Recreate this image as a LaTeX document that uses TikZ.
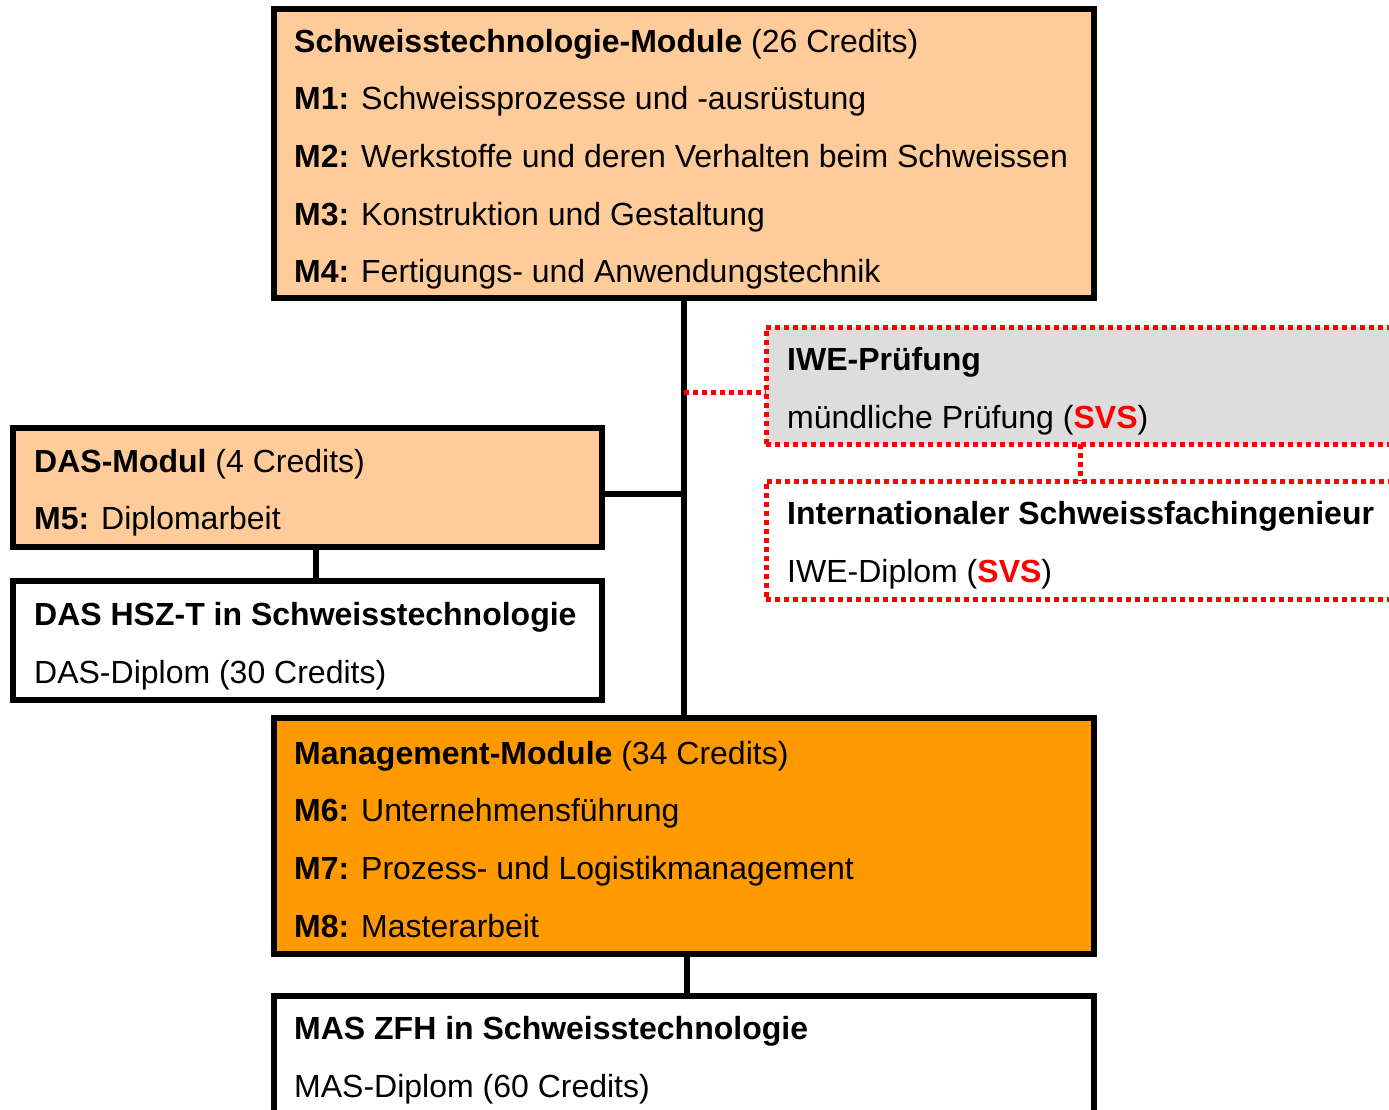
\documentclass[tikz,border=0pt]{standalone}
\usepackage{fontspec}
\setmainfont{Liberation Sans}
\usetikzlibrary{calc}
\definecolor{lightor}{HTML}{FFCC99}
\definecolor{darkor}{HTML}{FF9900}
\definecolor{greybox}{HTML}{DDDDDD}
\definecolor{svsred}{HTML}{FF0000}
\begin{document}
\begin{tikzpicture}[x=1pt,y=-1pt,
  box/.style={draw=black,line width=6pt,rectangle,inner sep=0pt,outer sep=0pt,anchor=north west},
  dotbox/.style={draw=svsred,line width=5pt,dash pattern=on 5pt off 4pt,rectangle,inner sep=0pt,outer sep=0pt,anchor=north west},
  conn/.style={draw=black,line width=6pt},
  dotconn/.style={draw=svsred,line width=5pt,dash pattern=on 5pt off 4pt},
  txt/.style={anchor=base west,inner sep=0pt,font=\fontsize{32}{38}\selectfont}]
\useasboundingbox (0,0) rectangle (1389,1109);
\clip (0,0) rectangle (1389,1109);
% boxes
\node[box,fill=lightor,minimum width=820pt,minimum height=289pt] (top) at (274,9) {};
\node[box,fill=lightor,minimum width=589pt,minimum height=119pt] (das) at (13,428) {};
\node[box,fill=white,minimum width=589pt,minimum height=119pt] (hsz) at (13,581) {};
\node[box,fill=darkor,minimum width=820pt,minimum height=236pt] (mgmt) at (274,718) {};
\node[box,fill=white,minimum width=820pt,minimum height=200pt] (mas) at (274,996) {};
\node[dotbox,fill=greybox,minimum width=700pt,minimum height=117pt] (iwe) at (766,327) {};
\node[dotbox,fill=white,minimum width=700pt,minimum height=118pt] (intl) at (766,481) {};
% connectors
\draw[conn] (top.south) -- (mgmt.north);
\coordinate (dasj) at ($(das.east)+(0,6)$);
\draw[conn] (dasj) -- (dasj -| top.south);
\draw[conn] ($(das.south)+(8,0)$) -- ($(hsz.north)+(8,0)$);
\draw[conn] ($(mgmt.south)+(3,0)$) -- ($(mas.north)+(3,0)$);
\coordinate (iwej) at ($(iwe.west)+(0,7)$);
\draw[dotconn] (iwej -| top.south) -- (iwej);
\coordinate (iwed) at (1080,0);
\draw[dotconn] (iwed |- iwe.south) -- (iwed |- intl.north);
% texts
\node[txt] (t1) at (294,52) {\textbf{Schweisstechnologie-Module} (26 Credits)};
\node[txt] (t2) at (294,109) {\textbf{M1:} Schweissprozesse und -ausrüstung};
\node[txt] (t3) at (294,167) {\textbf{M2:} Werkstoffe und deren Verhalten beim Schweissen};
\node[txt] (t4) at (294,225) {\textbf{M3:} Konstruktion und Gestaltung};
\node[txt] (t5) at (294,282) {\textbf{M4:} Fertigungs- und Anwendungstechnik};
\node[txt] (d1) at (34,472) {\textbf{DAS-Modul} (4 Credits)};
\node[txt] (d2) at (34,529) {\textbf{M5:} Diplomarbeit};
\node[txt] (h1) at (34,625) {\textbf{DAS HSZ-T in Schweisstechnologie}};
\node[txt] (h2) at (34,683) {DAS-Diplom (30 Credits)};
\node[txt] (m1) at (294,764) {\textbf{Management-Module} (34 Credits)};
\node[txt] (m2) at (294,821) {\textbf{M6:} Unternehmensführung};
\node[txt] (m3) at (294,879) {\textbf{M7:} Prozess- und Logistikmanagement};
\node[txt] (m4) at (294,937) {\textbf{M8:} Masterarbeit};
\node[txt] (a1) at (294,1039) {\textbf{MAS ZFH in Schweisstechnologie}};
\node[txt] (a2) at (294,1097) {MAS-Diplom (60 Credits)};
\node[txt] (i1) at (787,370) {\textbf{IWE-Prüfung}};
\node[txt] (i2) at (787,428) {mündliche Prüfung (\textbf{\textcolor{svsred}{SVS}})};
\node[txt] (n1) at (787,524) {\textbf{Internationaler Schweissfachingenieur}};
\node[txt] (n2) at (787,582) {IWE-Diplom (\textbf{\textcolor{svsred}{SVS}})};
\end{tikzpicture}
\end{document}
